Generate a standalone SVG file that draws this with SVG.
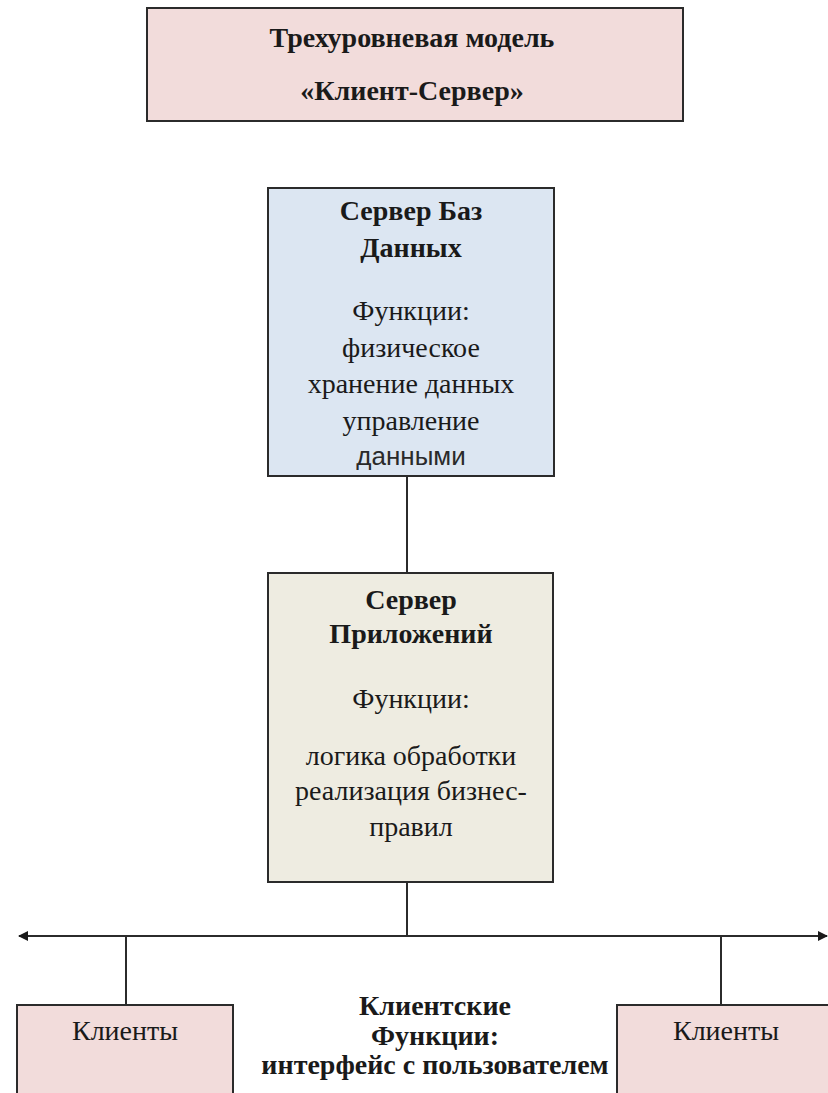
<svg xmlns="http://www.w3.org/2000/svg" width="828" height="1093" viewBox="0 0 828 1093">
  <defs>
    <style>
      .box { stroke: #2b2b2b; stroke-width: 2; }
      .pink { fill: #f2dcdb; }
      .blue { fill: #dce6f2; }
      .tan { fill: #eeece1; }
      .line { stroke: #2b2b2b; stroke-width: 2; fill: none; }
      text { font-family: "Liberation Serif", "Times New Roman", serif; font-size: 28px; fill: #1a1a1a; text-anchor: middle; }
      .b { font-weight: bold; }
      .sans { font-family: "Liberation Sans", Arial, sans-serif; font-size: 26px; fill: #2a2a2a; }
    </style>
    <marker id="head" viewBox="0 0 10 10" refX="9" refY="5" markerWidth="15" markerHeight="10" markerUnits="userSpaceOnUse" orient="auto-start-reverse">
      <path d="M0,0 L10,5 L0,10 Z" fill="#1a1a1a"/>
    </marker>
  </defs>
  <rect width="828" height="1093" fill="#ffffff"/>

  <!-- connectors -->
  <g id="connectors">
    <line class="line" x1="407" y1="476" x2="407" y2="573"/>
    <line class="line" x1="407" y1="882" x2="407" y2="936"/>
    <line class="line" x1="19" y1="936" x2="827" y2="936" marker-start="url(#head)" marker-end="url(#head)"/>
    <line class="line" x1="126" y1="936" x2="126" y2="1005"/>
    <line class="line" x1="721" y1="936" x2="721" y2="1005"/>
  </g>

  <!-- heading -->
  <g id="title">
    <rect class="box pink" x="147" y="8" width="536" height="113"/>
    <text class="b" x="412" y="47">Трехуровневая модель</text>
    <text class="b" x="412" y="100">«Клиент-Сервер»</text>
  </g>

  <!-- database server -->
  <g id="db-server">
    <rect class="box blue" x="268" y="188" width="286" height="288"/>
    <text class="b" x="411" y="220">Сервер Баз</text>
    <text class="b" x="411" y="257">Данных</text>
    <text x="411" y="320">Функции:</text>
    <text x="411" y="357">физическое</text>
    <text x="411" y="393">хранение данных</text>
    <text x="411" y="430">управление</text>
    <text class="sans" x="411" y="465">данными</text>
  </g>

  <!-- application server -->
  <g id="app-server">
    <rect class="box tan" x="268" y="573" width="285" height="309"/>
    <text class="b" x="411" y="609">Сервер</text>
    <text class="b" x="411" y="643">Приложений</text>
    <text x="411" y="708">Функции:</text>
    <text x="411" y="765">логика обработки</text>
    <text x="411" y="800">реализация бизнес-</text>
    <text x="411" y="836">правил</text>
  </g>

  <!-- clients -->
  <g id="client-left">
    <rect class="box pink" x="17" y="1005" width="216" height="100"/>
    <text x="125" y="1040">Клиенты</text>
  </g>
  <g id="client-right">
    <rect class="box pink" x="617" y="1005" width="216" height="100"/>
    <text x="726" y="1040">Клиенты</text>
  </g>

  <!-- client functions caption -->
  <g id="client-functions">
    <text class="b" x="435" y="1015">Клиентские</text>
    <text class="b" x="435" y="1045">Функции:</text>
    <text class="b" x="435" y="1074">интерфейс с пользователем</text>
  </g>
</svg>
